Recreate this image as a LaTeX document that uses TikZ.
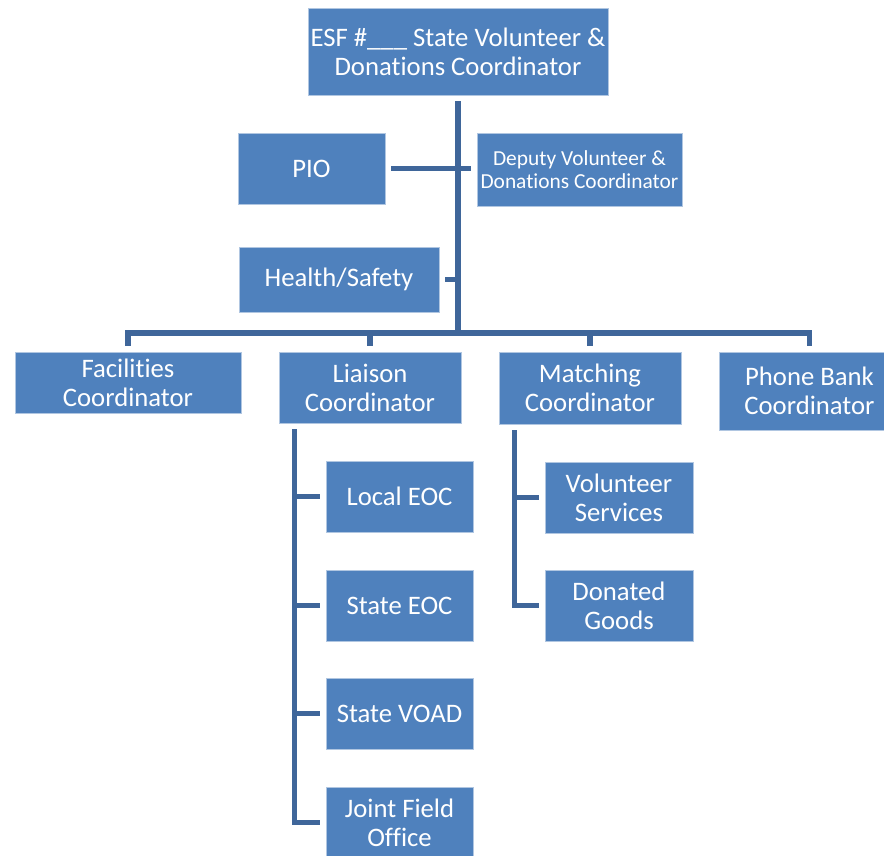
\documentclass[tikz,border=0pt]{standalone}
\usepackage{fontspec}
\setmainfont{Carlito}[RawFeature={-liga;-clig;-dlig;-calt}]
\definecolor{boxblue}{HTML}{4F81BD}
\definecolor{lineblue}{HTML}{3F669A}
\tikzset{
  box/.style={rectangle, fill=boxblue, draw=boxblue!45!white, line width=0.8pt,
    text=white, align=center, inner sep=0pt,
    font=\fontsize{26.7}{29}\selectfont},
  smallbox/.style={box, font=\fontsize{21.4}{23}\selectfont},
  conn/.style={draw=lineblue, line width=5.5pt, line cap=butt, line join=miter},
}
\begin{document}
\begin{tikzpicture}[x=1pt,y=-1pt]
\useasboundingbox (0,0) rectangle (884,855);
\begin{scope}
\clip (0,0) rectangle (884,855);
% boxes
\node[box, minimum width=300pt, minimum height=87pt] (top) at (458,51.5) {ESF \#\_\_\_ State Volunteer \&\\Donations Coordinator};
\node[box, minimum width=147pt, minimum height=71pt] (pio) at (311.5,168.5) {PIO};
\node[smallbox, minimum width=205pt, minimum height=73pt] (deputy) at (579.5,169.5) {Deputy Volunteer \&\\Donations Coordinator};
\node[box, minimum width=200pt, minimum height=65pt] (health) at (339,279.5) {Health/Safety};
\node[box, minimum width=226pt, minimum height=61pt] (fac) at (128,382.5) {Facilities\\Coordinator};
\node[box, minimum width=182pt, minimum height=71pt] (liaison) at (370,387.5) {Liaison\\Coordinator};
\node[box, minimum width=182pt, minimum height=72pt] (matching) at (590,388) {Matching\\Coordinator};
\node[box, minimum width=181pt, minimum height=78pt] (phone) at (809.5,391) {Phone Bank\\Coordinator};
\node[box, minimum width=147pt, minimum height=71pt] (local) at (399.5,496.5) {Local EOC};
\node[box, minimum width=147pt, minimum height=71pt] (seoc) at (399.5,605.5) {State EOC};
\node[box, minimum width=147pt, minimum height=71pt] (voad) at (399.5,713.5) {State VOAD};
\node[box, minimum width=147pt, minimum height=71pt] (jfo) at (399.5,822.5) {Joint Field\\Office};
\node[box, minimum width=148pt, minimum height=71pt] (vol) at (619,497.5) {Volunteer\\Services};
\node[box, minimum width=148pt, minimum height=71pt] (don) at (619,605.5) {Donated\\Goods};
% connectors
\coordinate (busc) at (458,333);
\draw[conn, shorten <=6pt] (top.south) -- (busc);
\draw[conn, shorten <=6pt, shorten >=6pt] (fac.north) |- (busc) -| (phone.north);
\draw[conn, shorten <=6pt] (liaison.north) -- (liaison.north |- busc);
\draw[conn, shorten <=6pt] (matching.north) -- (matching.north |- busc);
\draw[conn, shorten <=6pt, shorten >=6pt] (pio.east) -- (pio.east -| deputy.west);
\draw[conn, shorten <=6pt] (health.east) -- (health.east -| busc);
% liaison branch
\coordinate (lv) at ([xshift=16pt]liaison.south west);
\draw[conn, shorten <=6pt, shorten >=6pt] (lv) |- (jfo.west);
\foreach \n in {local,seoc,voad}
  \draw[conn, shorten >=6pt] (\n.west -| lv) -- (\n.west);
% matching branch
\coordinate (mv) at ([xshift=16pt]matching.south west);
\draw[conn, shorten <=6pt, shorten >=6pt] (mv) |- (don.west);
\draw[conn, shorten >=6pt] (vol.west -| mv) -- (vol.west);
\end{scope}
\end{tikzpicture}
\end{document}
